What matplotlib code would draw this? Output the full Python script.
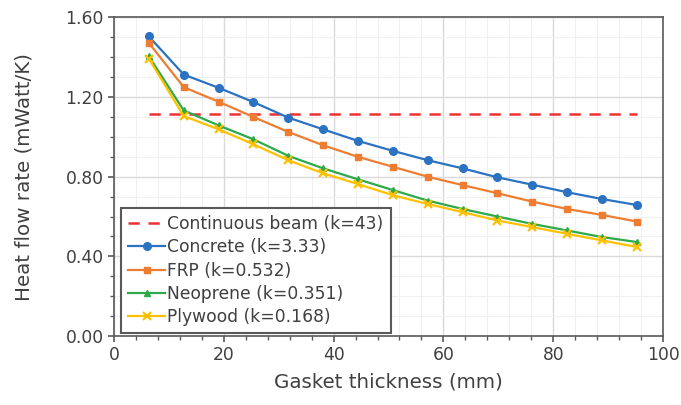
import numpy as np
import matplotlib.pyplot as plt
from matplotlib.ticker import MultipleLocator

# gasket thickness (mm), quarter-inch steps
thickness = [6.35, 12.7, 19.05, 25.4, 31.75, 38.1, 44.45, 50.8,
             57.15, 63.5, 69.85, 76.2, 82.55, 88.9, 95.25]

continuous = [1.117] * len(thickness)
concrete = [1.505, 1.313, 1.247, 1.175, 1.097, 1.038, 0.980, 0.930,
            0.883, 0.842, 0.797, 0.760, 0.722, 0.688, 0.658]
frp = [1.472, 1.250, 1.177, 1.100, 1.025, 0.958, 0.900, 0.850,
       0.800, 0.758, 0.717, 0.675, 0.638, 0.608, 0.575]
neoprene = [1.405, 1.133, 1.058, 0.988, 0.905, 0.842, 0.787, 0.733,
            0.680, 0.638, 0.600, 0.563, 0.530, 0.497, 0.472]
plywood = [1.393, 1.105, 1.038, 0.963, 0.883, 0.817, 0.763, 0.707,
           0.663, 0.622, 0.580, 0.547, 0.513, 0.480, 0.447]

fig = plt.figure(figsize=(6.81, 4.05), dpi=100)
ax = fig.add_axes([0.1674, 0.1704, 0.8062, 0.7864])

ax.plot(thickness, continuous, color='#ee3030', lw=1.8, ls=(0, (4.5, 3.5)),
        label='Continuous beam (k=43)')
ax.plot(thickness, concrete, color='#2b72c2', lw=1.6, marker='o', ms=5.5,
        label='Concrete (k=3.33)')
ax.plot(thickness, frp, color='#ef7d31', lw=1.6, marker='s', ms=5,
        label='FRP (k=0.532)')
ax.plot(thickness, neoprene, color='#2eaa4a', lw=1.6, marker='^', ms=4,
        label='Neoprene (k=0.351)')
ax.plot(thickness, plywood, color='#ffc000', lw=1.6, marker='x', ms=6,
        mew=1.6, label='Plywood (k=0.168)')

ax.set_xlim(0, 100)
ax.set_ylim(0, 1.6)
ax.xaxis.set_major_locator(MultipleLocator(20))
ax.xaxis.set_minor_locator(MultipleLocator(4))
ax.yaxis.set_major_locator(MultipleLocator(0.4))
ax.yaxis.set_minor_locator(MultipleLocator(0.1))
ax.yaxis.set_major_formatter(lambda v, p: f'{v:.2f}')

ax.grid(which='major', color='#d9d9d9', lw=1.0)
ax.grid(which='minor', color='#f0f0f0', lw=0.8)
ax.set_axisbelow(True)

for s in ax.spines.values():
    s.set_color('#595959')
    s.set_linewidth(1.2)
ax.tick_params(which='both', direction='out', color='#595959',
               labelcolor='#404040', labelsize=12.3)
ax.tick_params(which='major', length=4, width=1.2)
ax.tick_params(which='minor', length=3, width=1.0)

ax.set_xlabel('Gasket thickness (mm)', fontsize=14.3, color='#404040', labelpad=6)
ax.set_ylabel('Heat flow rate (mWatt/K)', fontsize=14.3, color='#404040', labelpad=23)

leg = ax.legend(loc='lower left', bbox_to_anchor=(0.012, 0.008), borderaxespad=0,
                fontsize=12.3, numpoints=1, handlelength=2.15, handletextpad=0.12,
                labelspacing=0.3, borderpad=0.45, fancybox=False, framealpha=1,
                edgecolor='#595959')
leg.get_frame().set_linewidth(1.5)
for t in leg.get_texts():
    t.set_color('#404040')

fig.savefig('out.png', dpi=100)
